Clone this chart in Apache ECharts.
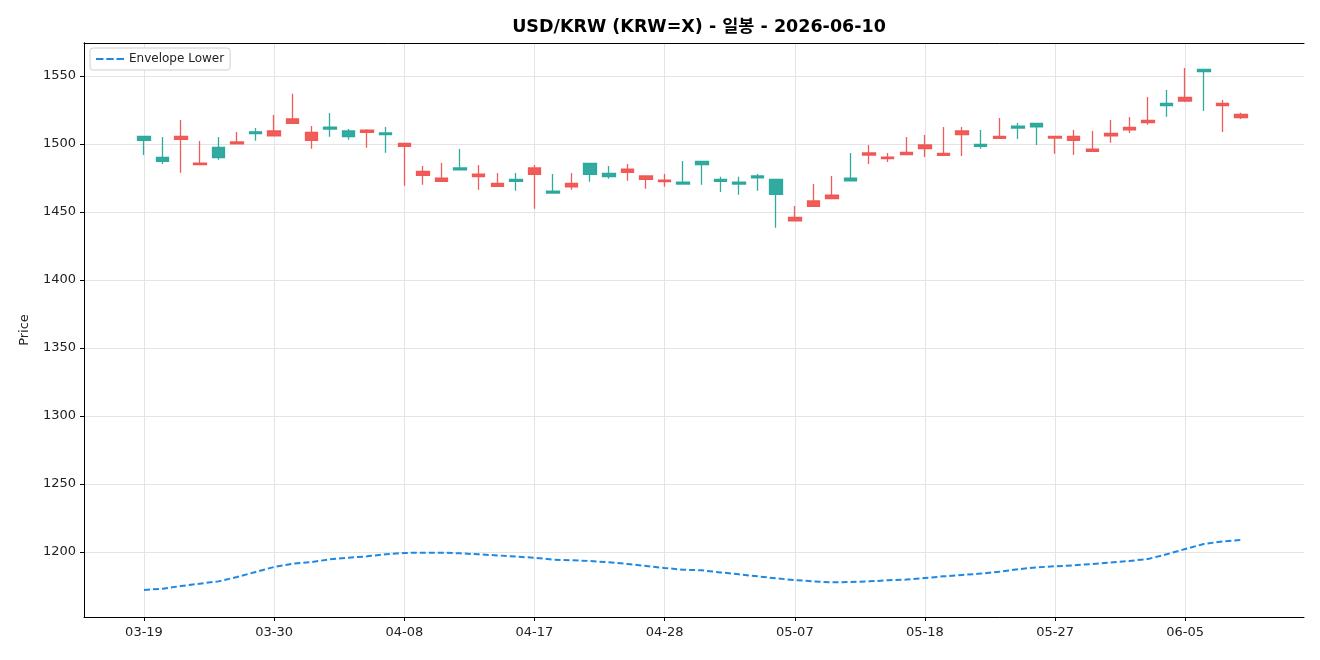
<!DOCTYPE html>
<html>
<head>
<meta charset="utf-8">
<script src="https://cdn.jsdelivr.net/npm/echarts@6/dist/echarts.min.js"></script>
<style>
  html, body { margin: 0; padding: 0; background: #fff; }
  #chart { width: 1320px; height: 660px; }
</style>
</head>
<body>
<div id="chart"></div>
<script>
// 일봉 날짜 (2026)
var dates = [
  '03-19', '03-20', '03-23', '03-24', '03-25', '03-26', '03-27',
  '03-30', '03-31', '04-01', '04-02', '04-03', '04-06', '04-07',
  '04-08', '04-09', '04-10', '04-13', '04-14', '04-15', '04-16',
  '04-17', '04-20', '04-21', '04-22', '04-23', '04-24', '04-27',
  '04-28', '04-29', '04-30', '05-01', '05-04', '05-05', '05-06',
  '05-07', '05-08', '05-11', '05-12', '05-13', '05-14', '05-15',
  '05-18', '05-19', '05-20', '05-21', '05-22', '05-25', '05-26',
  '05-27', '05-28', '05-29', '06-01', '06-02', '06-03', '06-04',
  '06-05', '06-08', '06-09', '06-10'
]
var opens = [
  1502.7, 1487.3, 1505.6, 1486.0, 1490.0, 1501.5, 1507.6,
  1509.6, 1518.4, 1508.6, 1511.0, 1505.4, 1510.3, 1506.9,
  1500.5, 1479.9, 1475.0, 1481.1, 1477.9, 1471.1, 1472.5,
  1482.4, 1464.0, 1471.1, 1477.7, 1476.0, 1481.6, 1476.5,
  1473.5, 1470.6, 1484.8, 1472.5, 1470.6, 1475.2, 1463.0,
  1446.1, 1458.1, 1462.5, 1473.0, 1493.4, 1490.4, 1493.9,
  1499.3, 1493.1, 1509.6, 1498.3, 1505.6, 1511.8, 1512.7,
  1505.6, 1505.6, 1496.3, 1507.8, 1512.3, 1517.4, 1528.2,
  1534.3, 1553.2, 1529.9, 1521.8
]
var closes = [
  1505.6, 1490.2, 1503.4, 1484.8, 1497.5, 1500.2, 1509.0,
  1506.1, 1515.2, 1502.7, 1512.5, 1509.6, 1508.6, 1508.1,
  1498.3, 1477.0, 1472.5, 1482.4, 1476.0, 1468.9, 1474.0,
  1477.7, 1465.4, 1468.6, 1485.8, 1478.4, 1479.2, 1474.0,
  1472.3, 1472.0, 1487.3, 1474.0, 1472.0, 1476.5, 1474.0,
  1443.6, 1454.2, 1459.8, 1475.0, 1491.9, 1489.2, 1492.2,
  1496.6, 1491.7, 1506.9, 1499.8, 1504.2, 1513.2, 1515.2,
  1504.4, 1502.7, 1494.6, 1506.1, 1510.5, 1515.7, 1529.9,
  1531.6, 1554.9, 1528.2, 1519.4
]
var lows = [
  1492.0, 1485.3, 1478.9, 1484.8, 1488.5, 1500.2, 1502.5,
  1506.1, 1515.2, 1496.6, 1505.4, 1503.2, 1497.3, 1493.6,
  1469.4, 1470.1, 1472.5, 1481.1, 1466.4, 1468.9, 1465.7,
  1452.5, 1463.5, 1466.4, 1472.3, 1474.5, 1473.0, 1467.2,
  1468.6, 1470.1, 1470.0, 1464.7, 1462.7, 1465.7, 1438.5,
  1443.6, 1454.2, 1459.8, 1473.0, 1485.3, 1486.8, 1492.2,
  1490.4, 1491.7, 1491.2, 1496.6, 1504.2, 1503.7, 1499.3,
  1492.9, 1491.9, 1494.6, 1501.0, 1508.1, 1514.2, 1520.1,
  1530.9, 1524.3, 1508.8, 1518.4
]
var highs = [
  1505.6, 1505.1, 1517.6, 1502.2, 1505.1, 1508.8, 1511.8,
  1521.3, 1537.0, 1513.2, 1522.8, 1511.0, 1510.8, 1512.5,
  1500.5, 1483.8, 1486.0, 1496.3, 1484.6, 1478.7, 1478.7,
  1484.6, 1477.9, 1478.7, 1485.8, 1483.8, 1485.3, 1476.5,
  1477.9, 1487.5, 1487.3, 1476.0, 1476.0, 1478.0, 1474.0,
  1454.4, 1470.6, 1476.5, 1493.4, 1499.3, 1493.4, 1505.1,
  1506.6, 1512.5, 1512.5, 1510.3, 1519.1, 1515.4, 1515.2,
  1505.6, 1510.3, 1509.6, 1517.6, 1519.9, 1534.6, 1539.7,
  1555.9, 1555.4, 1532.4, 1523.0
]
var envelopeLower = [
  1172.1, 1173.0, 1175.0, 1176.7, 1178.4, 1181.6, 1185.3,
  1189.0, 1191.4, 1192.6, 1194.6, 1195.8, 1196.8, 1198.3,
  1199.3, 1199.5, 1199.5, 1199.0, 1198.3, 1197.5, 1196.6,
  1195.8, 1194.4, 1193.9, 1193.4, 1192.4, 1191.2, 1189.7,
  1188.2, 1187.0, 1186.5, 1185.0, 1183.6, 1182.1, 1180.6,
  1179.4, 1178.4, 1177.7, 1177.9, 1178.4, 1179.2, 1179.7,
  1180.9, 1182.1, 1183.1, 1184.1, 1185.5, 1187.3, 1188.7,
  1189.5, 1190.2, 1191.2, 1192.2, 1193.4, 1194.9, 1198.3,
  1202.2, 1205.9, 1207.8, 1208.8
]

var upColor = '#26a69a'
var downColor = '#ef5350'
var lineColor = '#1e88e5'
var fontFamily = '"DejaVu Sans", "Noto Sans CJK KR", sans-serif'
var yMin = 1152.2
var yMax = 1574.3
var frameLine = { show: true, lineStyle: { color: '#000', width: 1 } }

// 캔들 데이터 [open, close, low, high]
var candles = []
for (var i = 0; i < dates.length; i++) {
  candles.push([opens[i], closes[i], lows[i], highs[i]])
}

var myChart = echarts.init(document.getElementById('chart'))
myChart.setOption({
  animation: false,
  textStyle: { fontFamily: fontFamily },
  title: {
    text: 'USD/KRW (KRW=X) - 일봉 - 2026-06-10',
    left: 694,
    textAlign: 'center',
    top: 14,
    textStyle: { fontSize: 17.5, fontWeight: 'bold', color: '#000', fontFamily: fontFamily }
  },
  legend: {
    data: ['Envelope Lower'],
    left: 90,
    top: 48,
    orient: 'vertical',
    backgroundColor: '#fff',
    borderColor: '#d0d0d0',
    borderWidth: 1,
    borderRadius: 3,
    padding: [5, 6, 5, 6],
    // 점선 아이콘
    icon: 'path://M0,0h8v2h-8z M11,0h8v2h-8z M22,0h8v2h-8z',
    itemWidth: 28,
    itemHeight: 2,
    itemGap: 4,
    textStyle: { fontSize: 12, color: '#222', fontFamily: fontFamily }
  },
  grid: [
    // 외곽 프레임
    { left: 84, top: 43, width: 1220, height: 574, show: false },
    // 캔들 영역 (첫/마지막 캔들 중심)
    { left: 144, top: 43, width: 1097, height: 574, show: false }
  ],
  xAxis: [
    {
      gridIndex: 0, type: 'value', min: 0, max: 1, position: 'bottom',
      axisLine: frameLine, axisTick: { show: false }, axisLabel: { show: false }, splitLine: { show: false }
    },
    {
      gridIndex: 1,
      type: 'category',
      data: dates,
      boundaryGap: false,
      axisLine: { show: false },
      axisTick: { show: true, interval: 6, length: 4, lineStyle: { color: '#000' } },
      axisLabel: { interval: 6, margin: 9, fontSize: 13, color: '#222' },
      splitLine: { show: true, interval: 6, lineStyle: { color: '#e4e4e4', width: 1 } }
    },
    {
      gridIndex: 0, type: 'value', min: 0, max: 1, position: 'top',
      axisLine: frameLine, axisTick: { show: false }, axisLabel: { show: false }, splitLine: { show: false }
    }
  ],
  yAxis: [
    {
      gridIndex: 0,
      type: 'value',
      min: yMin,
      max: yMax,
      splitNumber: 8,
      name: 'Price',
      nameLocation: 'middle',
      nameGap: 53,
      nameTextStyle: { fontSize: 13, color: '#222' },
      axisLine: frameLine,
      axisTick: { show: true, length: 4, lineStyle: { color: '#000' } },
      axisLabel: {
        fontSize: 13,
        color: '#222',
        margin: 8,
        showMinLabel: false,
        showMaxLabel: false,
        formatter: function (v) { return String(v) }
      },
      splitLine: { show: true, lineStyle: { color: '#e4e4e4', width: 1 } }
    },
    { gridIndex: 1, type: 'value', min: yMin, max: yMax, show: false },
    {
      gridIndex: 0, type: 'value', min: yMin, max: yMax, position: 'right',
      axisLine: frameLine, axisTick: { show: false }, axisLabel: { show: false }, splitLine: { show: false }
    }
  ],
  series: [
    {
      name: 'Candle',
      type: 'candlestick',
      xAxisIndex: 1,
      yAxisIndex: 1,
      clip: false,
      barWidth: 13,
      data: candles,
      itemStyle: {
        color: upColor,
        color0: downColor,
        borderColor: upColor,
        borderColor0: downColor,
        borderWidth: 1.3,
        opacity: 0.95
      }
    },
    {
      name: 'Envelope Lower',
      type: 'line',
      xAxisIndex: 1,
      yAxisIndex: 1,
      data: envelopeLower,
      showSymbol: false,
      symbol: 'none',
      lineStyle: { color: lineColor, width: 2, type: [6, 3] },
      itemStyle: { color: lineColor }
    }
  ]
})
</script>
</body>
</html>
